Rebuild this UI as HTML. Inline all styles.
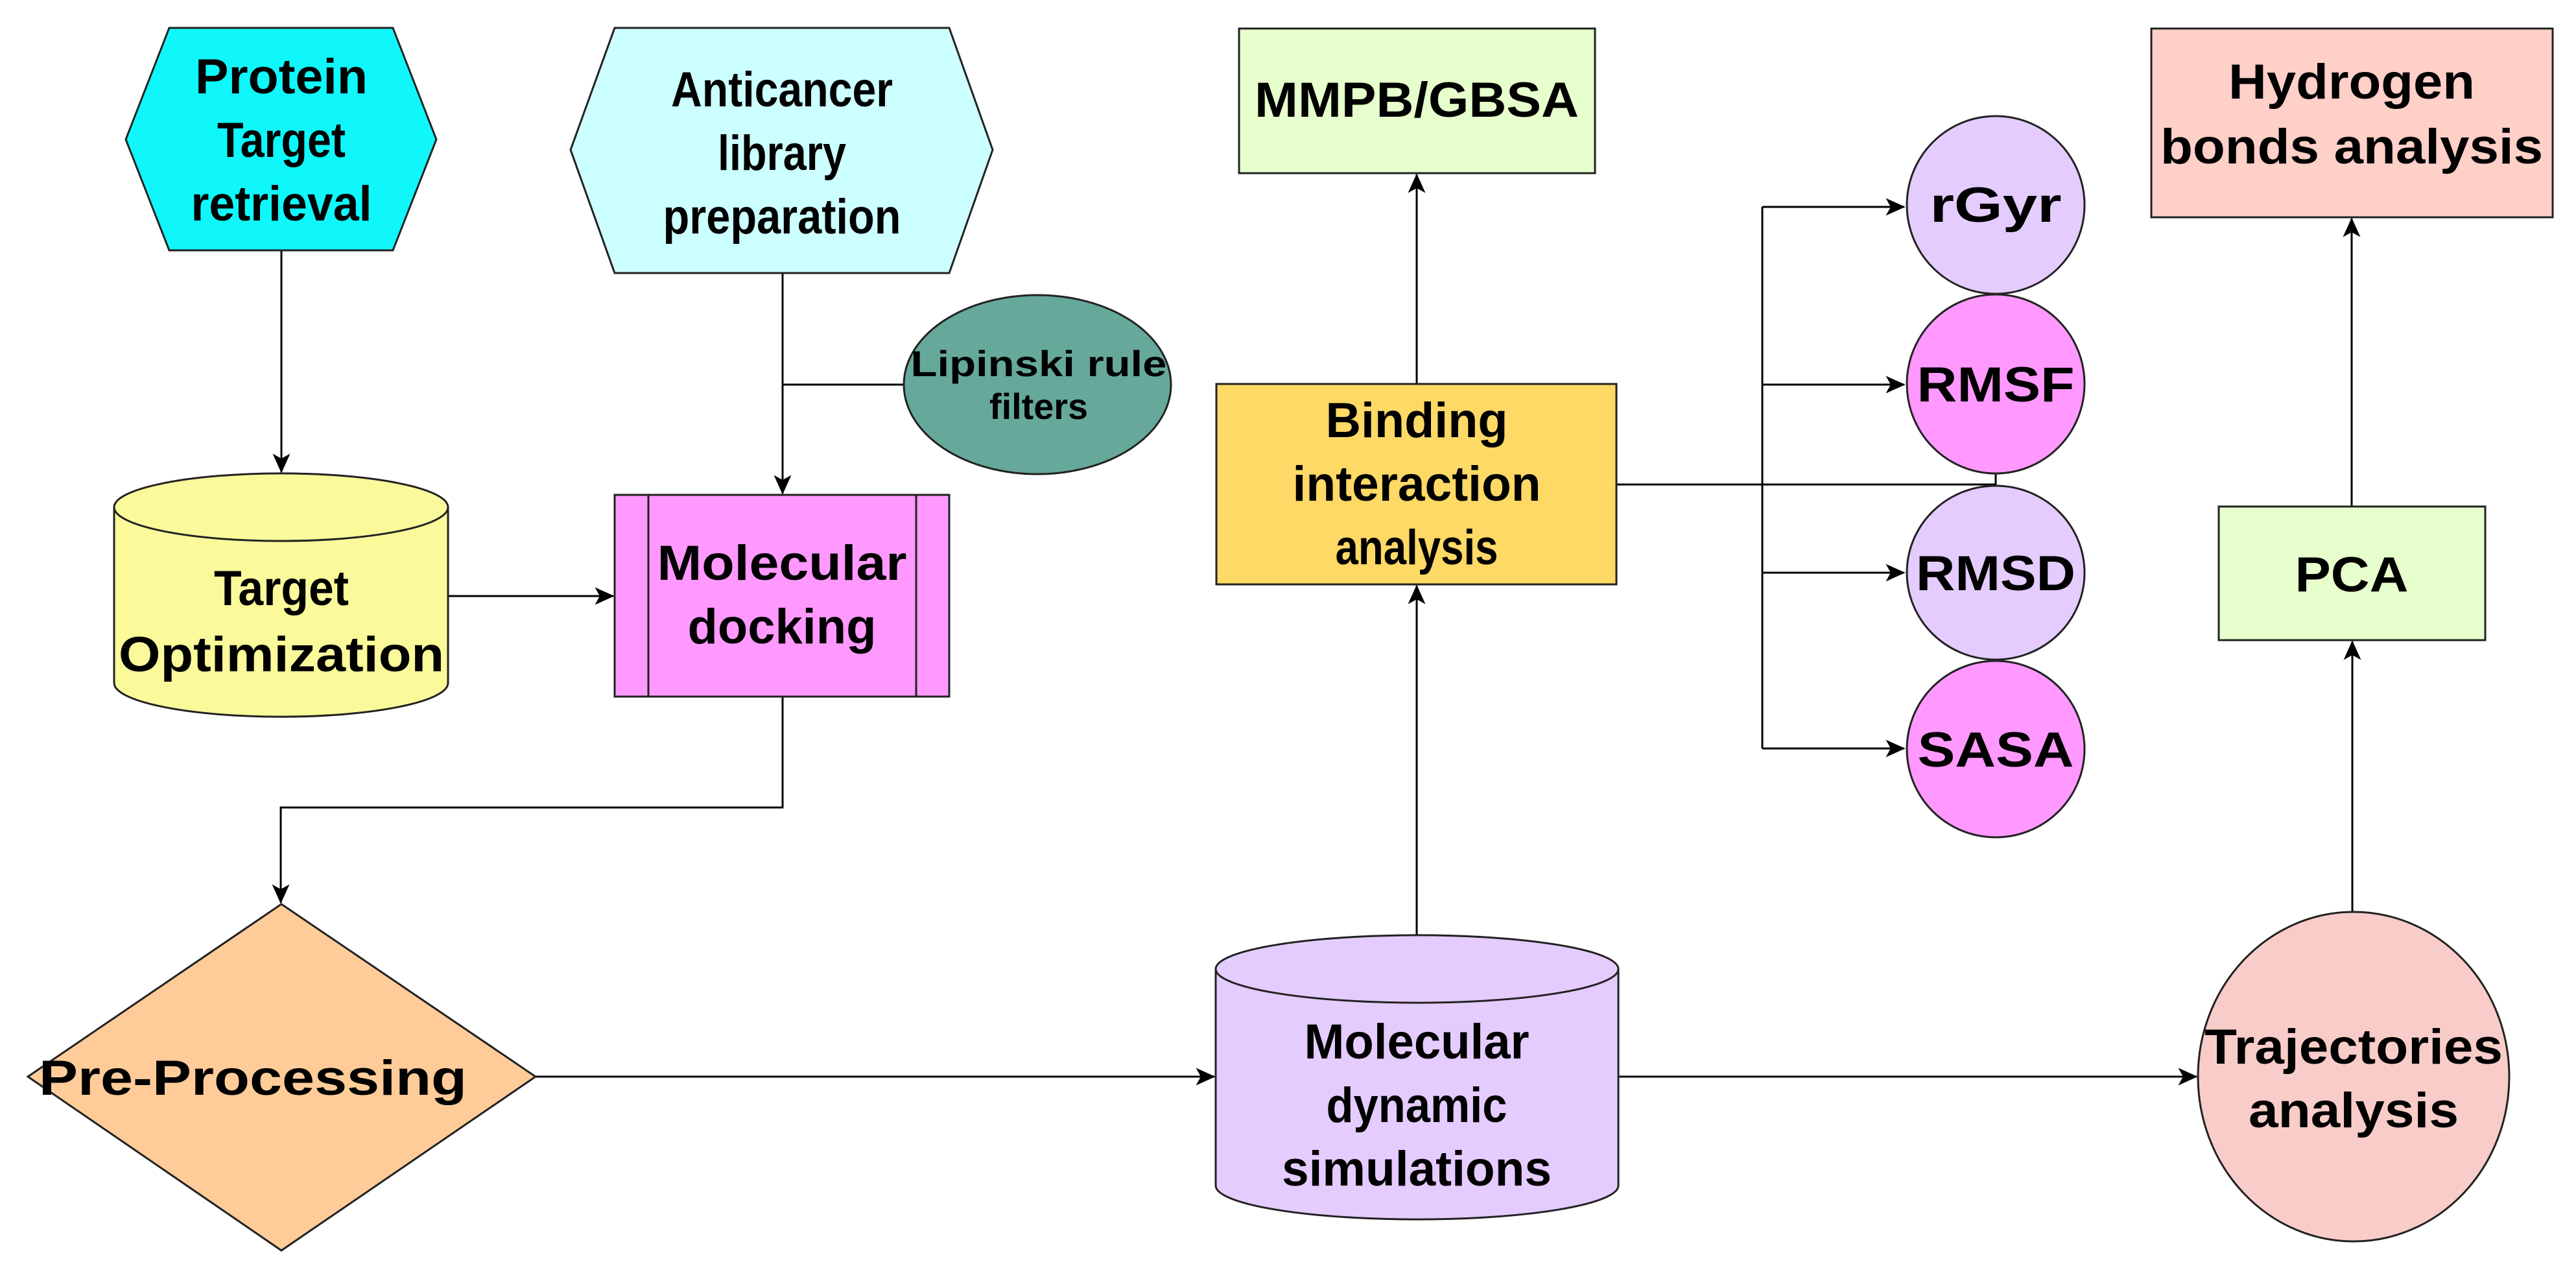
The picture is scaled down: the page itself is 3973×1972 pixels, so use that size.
<!DOCTYPE html>
<html><head><meta charset="utf-8"><style>
html,body{margin:0;padding:0;background:#fff}
svg{display:block}
text{font-family:"Liberation Sans",Arial,sans-serif;font-weight:bold;fill:#000;text-anchor:middle}
</style></head><body>
<svg width="3973" height="1972" viewBox="0 0 3973 1972" xmlns="http://www.w3.org/2000/svg">
<defs>
<marker id="b" viewBox="0 0 20 20" markerWidth="30" markerHeight="30" refX="19" refY="10" orient="auto" markerUnits="userSpaceOnUse">
<path d="M0,1 L20,10 L0,19 L5,10 Z" fill="#000"/>
</marker>
</defs>
<g stroke="#000" stroke-width="3" fill="none">
<path d="M434,386 V728" marker-end="url(#b)"/>
<path d="M1207,421 V761" marker-end="url(#b)"/>
<path d="M1207,593 H1394"/>
<path d="M691,919 H946" marker-end="url(#b)"/>
<path d="M1207,1074 V1245 H433 V1392" marker-end="url(#b)"/>
<path d="M826,1660 H1873" marker-end="url(#b)"/>
<path d="M2496,1660 H3388" marker-end="url(#b)"/>
<path d="M2185,1441 V903" marker-end="url(#b)"/>
<path d="M2185,592 V269" marker-end="url(#b)"/>
<path d="M2493,747 H3078 V730"/>
<path d="M2718,319 V1154"/>
<path d="M2718,319 H2937" marker-end="url(#b)"/>
<path d="M2718,593 H2937" marker-end="url(#b)"/>
<path d="M2718,883 H2937" marker-end="url(#b)"/>
<path d="M2718,1154 H2937" marker-end="url(#b)"/>
<path d="M3628,1406 V989" marker-end="url(#b)"/>
<path d="M3627,781 V337" marker-end="url(#b)"/>
</g>
<g stroke="#222" stroke-width="3">
<polygon points="261,43 606,43 673,215 606,386 261,386 194,215" fill="#0ff7fb"/>
<polygon points="948,43 1464,43 1531,231 1464,421 948,421 880,231" fill="#ccffff"/>
<ellipse cx="1600" cy="593" rx="206" ry="138" fill="#66a99a"/>
<path d="M176,782 V1053 A257,52 0 0 0 691,1053 V782 A257,52 0 0 0 176,782 Z" fill="#fafa9b"/>
<path d="M176,782 A257,52 0 0 0 691,782" fill="none"/>
<rect x="948" y="763" width="516" height="311" fill="#ff99ff"/>
<line x1="1000" y1="763" x2="1000" y2="1074"/>
<line x1="1413" y1="763" x2="1413" y2="1074"/>
<polygon points="434,1394 826,1660 434,1928 43,1660" fill="#ffcc99"/>
<path d="M1875,1494 V1828 A310,52 0 0 0 2496,1828 V1494 A310,52 0 0 0 1875,1494 Z" fill="#e5ccff"/>
<path d="M1875,1494 A310,52 0 0 0 2496,1494" fill="none"/>
<rect x="1876" y="592" width="617" height="309" fill="#ffd966"/>
<rect x="1911" y="44" width="549" height="223" fill="#e6ffcc"/>
<ellipse cx="3078" cy="316" rx="137" ry="137" fill="#e5ccff"/>
<ellipse cx="3078" cy="592" rx="137" ry="138" fill="#ff99ff"/>
<ellipse cx="3078" cy="883" rx="137" ry="134" fill="#e5ccff"/>
<ellipse cx="3078" cy="1155" rx="137" ry="136" fill="#ff99ff"/>
<rect x="3318" y="44" width="619" height="291" fill="#ffd0c8"/>
<rect x="3422" y="781" width="411" height="206" fill="#e6ffcc"/>
<ellipse cx="3630" cy="1660" rx="240" ry="254" fill="#f8ccc8"/>
</g>
<g font-size="76">
<text x="434" y="144" textLength="266" lengthAdjust="spacingAndGlyphs">Protein</text>
<text x="434" y="242" textLength="198" lengthAdjust="spacingAndGlyphs">Target</text>
<text x="434" y="340" textLength="279" lengthAdjust="spacingAndGlyphs">retrieval</text>
<text x="1206" y="164" textLength="342" lengthAdjust="spacingAndGlyphs">Anticancer</text>
<text x="1206" y="262" textLength="198" lengthAdjust="spacingAndGlyphs">library</text>
<text x="1206" y="360" textLength="367" lengthAdjust="spacingAndGlyphs">preparation</text>
<text x="434" y="933" textLength="208" lengthAdjust="spacingAndGlyphs">Target</text>
<text x="434" y="1035" textLength="502" lengthAdjust="spacingAndGlyphs">Optimization</text>
<text x="1206" y="894" textLength="385" lengthAdjust="spacingAndGlyphs">Molecular</text>
<text x="1206" y="992" textLength="291" lengthAdjust="spacingAndGlyphs">docking</text>
<text x="390" y="1688" textLength="660" lengthAdjust="spacingAndGlyphs">Pre-Processing</text>
<text x="2185" y="1632" textLength="347" lengthAdjust="spacingAndGlyphs">Molecular</text>
<text x="2185" y="1730" textLength="279" lengthAdjust="spacingAndGlyphs">dynamic</text>
<text x="2185" y="1828" textLength="416" lengthAdjust="spacingAndGlyphs">simulations</text>
<text x="2185" y="674" textLength="281" lengthAdjust="spacingAndGlyphs">Binding</text>
<text x="2185" y="772" textLength="383" lengthAdjust="spacingAndGlyphs">interaction</text>
<text x="2185" y="870" textLength="251" lengthAdjust="spacingAndGlyphs">analysis</text>
<text x="2185" y="180" textLength="500" lengthAdjust="spacingAndGlyphs">MMPB/GBSA</text>
<text x="3627" y="152" textLength="380" lengthAdjust="spacingAndGlyphs">Hydrogen</text>
<text x="3627" y="252" textLength="590" lengthAdjust="spacingAndGlyphs">bonds analysis</text>
<text x="3627" y="912" textLength="175" lengthAdjust="spacingAndGlyphs">PCA</text>
<text x="3630" y="1640" textLength="460" lengthAdjust="spacingAndGlyphs">Trajectories</text>
<text x="3630" y="1738" textLength="324" lengthAdjust="spacingAndGlyphs">analysis</text>
<text x="3078" y="342" textLength="203" lengthAdjust="spacingAndGlyphs">rGyr</text>
<text x="3078" y="619" textLength="243" lengthAdjust="spacingAndGlyphs">RMSF</text>
<text x="3078" y="910" textLength="246" lengthAdjust="spacingAndGlyphs">RMSD</text>
<text x="3078" y="1182" textLength="241" lengthAdjust="spacingAndGlyphs">SASA</text>
</g>
<g font-size="56">
<text x="1602" y="580" textLength="395" lengthAdjust="spacingAndGlyphs">Lipinski rule</text>
<text x="1602" y="646" textLength="152" lengthAdjust="spacingAndGlyphs">filters</text>
</g>
</svg>
</body></html>
